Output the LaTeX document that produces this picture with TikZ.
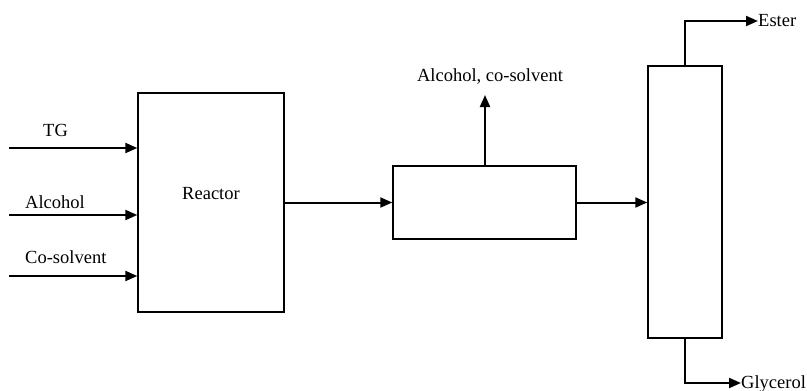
\documentclass[tikz,border=0pt]{standalone}
\usepackage{fontspec}
\setmainfont{Liberation Serif}
\usetikzlibrary{arrows.meta}
\begin{document}
\begin{tikzpicture}[x=1pt,y=1pt,
  unitbox/.style={draw, line width=1.4pt, inner sep=0pt, fill=white},
  flow/.style={line width=2pt, -{Triangle[length=12pt,width=10pt]}},
  lbl/.style={inner sep=0pt, anchor=base west, font=\fontsize{18.5}{22}\selectfont},
  lblc/.style={inner sep=0pt, anchor=base, font=\fontsize{18.5}{22}\selectfont}]
\useasboundingbox (0,0) rectangle (807,-391);
% boxes
\node[unitbox, minimum width=146pt, minimum height=219pt] (reactor) at (211,-202.5) {};
\node[unitbox, minimum width=183pt, minimum height=73pt] (mid) at (484.5,-202.5) {};
\node[unitbox, minimum width=74pt, minimum height=272pt] (col) at (685,-202) {};
% labels
\node[lblc] (reactorlbl) at (211,-199) {Reactor};
\node[lbl] (tglbl) at (43,-136) {TG};
\node[lbl] (alclbl) at (25,-208) {Alcohol};
\node[lbl] (coslbl) at (25,-263) {Co-solvent};
\node[lblc] (toplbl) at (490,-81) {Alcohol, co-solvent};
\node[lbl] (esterlbl) at (758,-26) {Ester};
\node[lbl] (glylbl) at (741,-388) {Glycerol};
% coordinates
\coordinate (tgs) at (9,-148);
\coordinate (alcs) at (9,-215);
\coordinate (coss) at (9,-276);
\coordinate (vapend) at (485,-95);
\coordinate (esterend) at (758,-21);
\coordinate (glyend) at (741,-383);
% connectors
\draw[flow] (tgs) -- (tgs -| reactor.west);
\draw[flow] (alcs) -- (alcs -| reactor.west);
\draw[flow] (coss) -- (coss -| reactor.west);
\draw[flow] (reactor.east) -- (mid.west);
\draw[flow] (mid.east) -- (mid.east -| col.west);
\draw[flow] (vapend |- mid.north) -- (vapend);
\draw[flow] (col.north) |- (esterend);
\draw[flow] (col.south) |- (glyend);
\end{tikzpicture}
\end{document}
